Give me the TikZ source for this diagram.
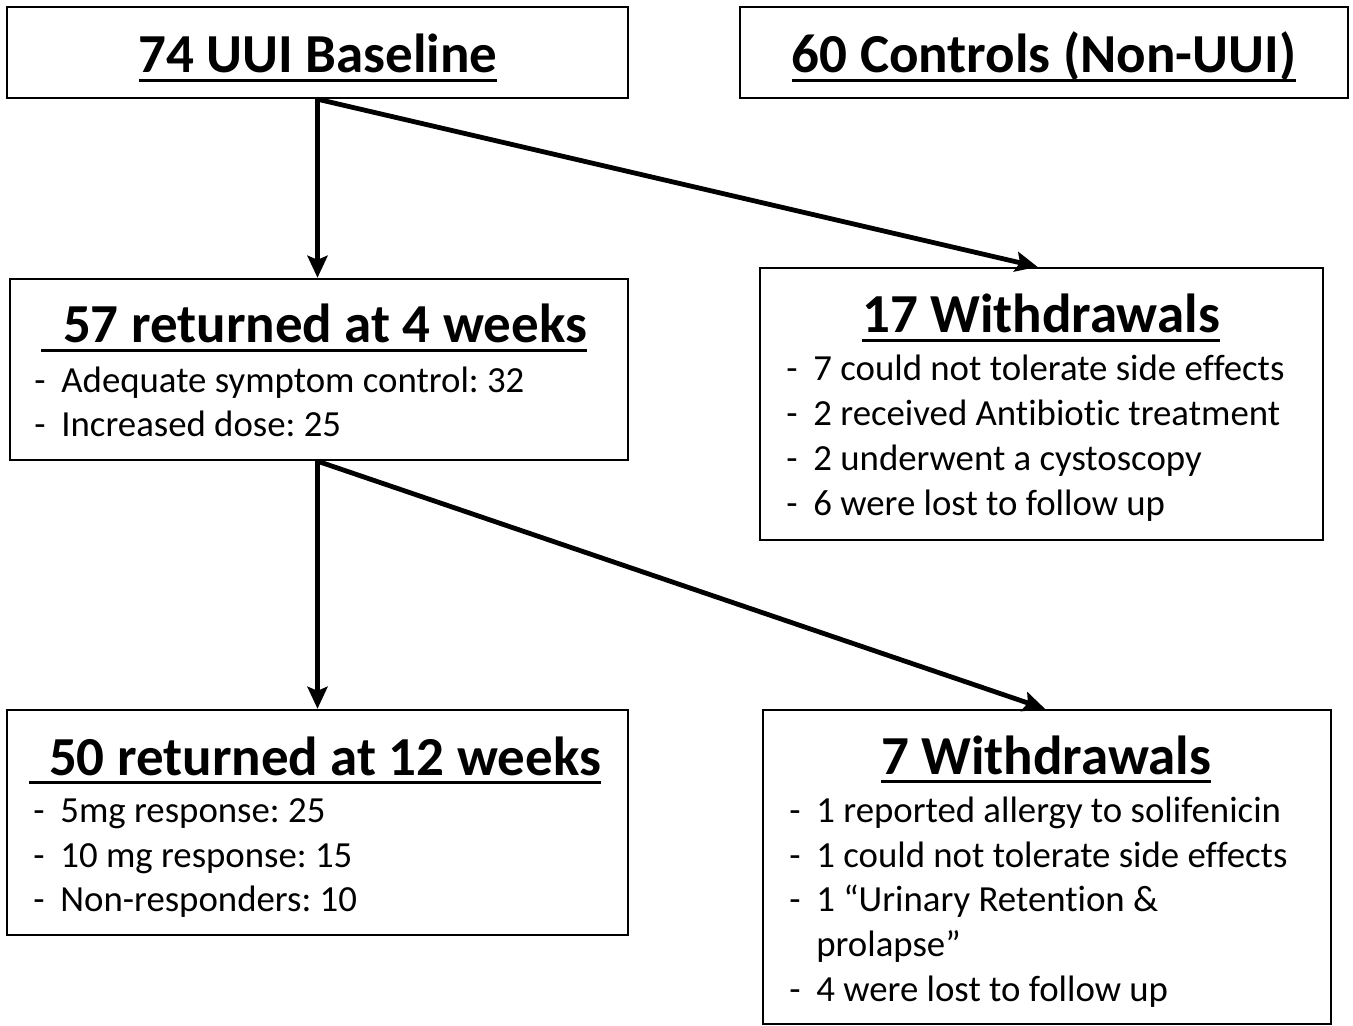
\documentclass[tikz,border=0pt]{standalone}
\usepackage{fontspec}
\setmainfont{Carlito}[Ligatures={NoCommon}]
\usetikzlibrary{arrows.meta}
\frenchspacing
\newcommand\ulx[1]{\setbox0\hbox{#1}\rlap{\rule[-4.5pt]{\wd0}{1.6pt}}\box0}
\newcommand\itm[1]{\makebox[13.5pt][l]{-}#1}
\begin{document}
\begin{tikzpicture}[x=0.5pt,y=-0.5pt,
  box/.style={draw,line width=1.2pt,inner sep=0pt,fill=white},
  ttl/.style={font=\fontsize{27.5}{33}\selectfont\bfseries,inner sep=0pt,anchor=base},
  itmtxt/.style={font=\fontsize{18.4}{22}\selectfont,inner sep=0pt,anchor=base west},
  arr/.style={line width=2.4pt,-{Stealth[length=11pt,width=10pt,inset=2pt]}}]
\useasboundingbox[fill=white] (0,0) rectangle (1353,1026);
% boxes
\node[box,minimum width=310.5pt,minimum height=45.5pt] (b1) at (317.5,52.5) {};
\node[box,minimum width=304pt,minimum height=45.5pt] (b2) at (1044,52.5) {};
\node[box,minimum width=309pt,minimum height=90.5pt] (b3) at (319,369.5) {};
\node[box,minimum width=281.5pt,minimum height=136pt] (b4) at (1041.5,404) {};
\node[box,minimum width=310.5pt,minimum height=112.5pt] (b5) at (317.5,822.5) {};
\node[box,minimum width=284pt,minimum height=157pt] (b6) at (1047,867) {};
% titles
\node[ttl] (t1) at (318,73) {\ulx{74 UUI Baseline}};
\node[ttl] (t2) at (1044,73) {\ulx{60 Controls (Non-UUI)}};
\node[ttl] (t3) at (314,343) {\ulx{\hspace{11pt}57 returned at 4 weeks}};
\node[ttl] (t4) at (1041,333) {\ulx{17 Withdrawals}};
\node[ttl] (t5) at (315,775) {\ulx{\hspace{10pt}50 returned at 12 weeks}};
\node[ttl] (t6) at (1046,774) {\ulx{7 Withdrawals}};
% box 3 items
\node[itmtxt] (l31) at (34,392) {\itm{Adequate symptom control: 32}};
\node[itmtxt] (l32) at (34,436) {\itm{Increased dose: 25}};
% box 4 items
\node[itmtxt] (l41) at (786,380) {\itm{7 could not tolerate side effects}};
\node[itmtxt] (l42) at (786,425) {\itm{2 received Antibiotic treatment}};
\node[itmtxt] (l43) at (786,470) {\itm{2 underwent a cystoscopy}};
\node[itmtxt] (l44) at (786,515) {\itm{6 were lost to follow up}};
% box 5 items
\node[itmtxt] (l51) at (33,822) {\itm{5mg response: 25}};
\node[itmtxt] (l52) at (33,867) {\itm{10 mg response: 15}};
\node[itmtxt] (l53) at (33,911) {\itm{Non-responders: 10}};
% box 6 items
\node[itmtxt] (l61) at (789,822) {\itm{1 reported allergy to solifenicin}};
\node[itmtxt] (l62) at (789,867) {\itm{1 could not tolerate side effects}};
\node[itmtxt] (l63) at (789,911) {\itm{1 “Urinary Retention \&}};
\node[itmtxt] (l64) at (789,956) {\hspace{13.5pt}prolapse”};
\node[itmtxt] (l65) at (789,1001) {\itm{4 were lost to follow up}};
% arrows
\draw[arr] (b1.south) -- (b1.south |- b3.north);
\draw[arr] (b1.south) -- ([xshift=-2pt]b4.north);
\draw[arr] (b3.south -| b1.south) -- (b1.south |- b5.north);
\draw[arr] (b3.south -| b1.south) -- ([xshift=-1pt]b6.north);
\end{tikzpicture}
\end{document}
